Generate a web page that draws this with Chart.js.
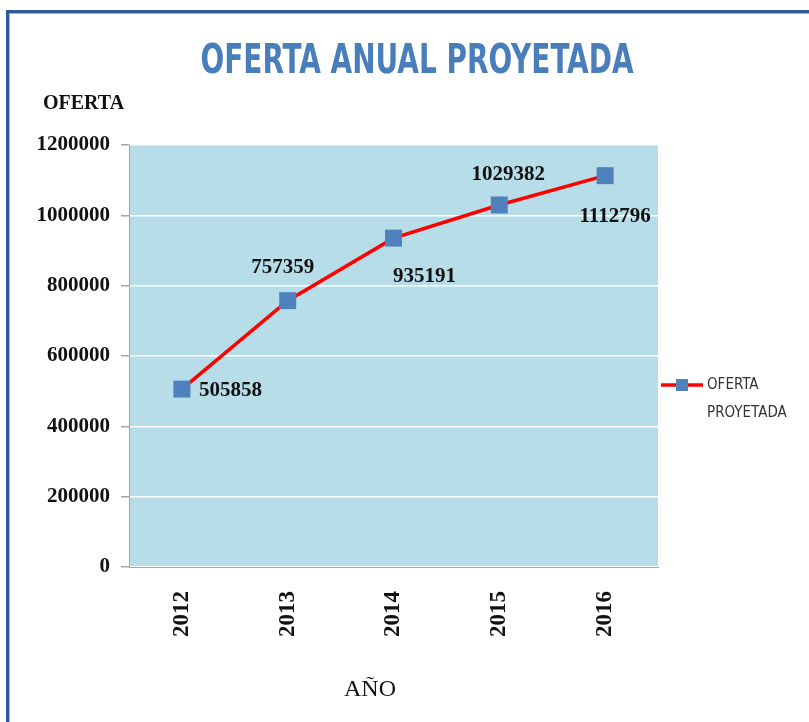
<!DOCTYPE html>
<html>
<head>
<meta charset="utf-8">
<script src="https://cdn.jsdelivr.net/npm/chart.js@4.4.1/dist/chart.umd.min.js"></script>
<style>
  html, body { margin: 0; padding: 0; background: #ffffff; }
  #wrap { width: 809px; height: 722px; position: relative; }
</style>
</head>
<body>
<div id="wrap"><canvas id="c" width="809" height="722"></canvas></div>
<script>
// ---- data ----
const categories = ['2012', '2013', '2014', '2015', '2016'];
const seriesName = 'OFERTA PROYETADA';
const ofertaValues = [505858, 757359, 935191, 1029382, 1112796];
const yTicks = [0, 200000, 400000, 600000, 800000, 1000000, 1200000];
const chartTitle = 'OFERTA ANUAL PROYETADA';
const yAxisTitle = 'OFERTA';
const xAxisTitle = 'AÑO';
const legendLines = ['OFERTA', 'PROYETADA'];

// ---- label placement (style only) ----
const labelOffsets = [
  { dx: 17, dy: 1, align: 'left' },
  { dx: -5, dy: -33, align: 'center' },
  { dx: 31, dy: 38, align: 'center' },
  { dx: 9, dy: -30, align: 'center' },
  { dx: 10, dy: 41, align: 'center' }
];

const SERIF = "'Liberation Serif', 'Times New Roman', serif";
const NARROW = "'Liberation Sans Narrow', 'DejaVu Sans Condensed', 'Liberation Sans', sans-serif";
const MARKER = '#4F81BD';
const LINE = '#FF0000';

const decorPlugin = {
  id: 'decor',
  beforeDraw(chart) {
    const { ctx, chartArea: a } = chart;
    ctx.save();
    ctx.fillStyle = '#2E5A97';
    ctx.fillRect(6, 10, 3, 722);
    ctx.fillRect(6, 10, 809, 3);
    ctx.fillStyle = '#9DB3D3';
    ctx.fillRect(9, 13, 1, 722);
    ctx.fillRect(9, 13, 809, 1);
    ctx.fillStyle = '#B7DDE8';
    ctx.fillRect(a.left, a.top, a.right - a.left, a.bottom - a.top);
    ctx.restore();
  },
  afterDraw(chart) {
    const { ctx, chartArea: a } = chart;
    ctx.save();
    // title (horizontally condensed)
    ctx.save();
    ctx.fillStyle = '#4A7EBB';
    ctx.font = "bold 40px " + NARROW;
    ctx.textAlign = 'center';
    ctx.textBaseline = 'middle';
    const tw = ctx.measureText(chartTitle).width;
    const sx = 433 / tw;
    ctx.translate(417, 63);
    ctx.scale(sx, 1);
    ctx.fillText(chartTitle, 0, 0);
    ctx.restore();
    // y axis title
    ctx.fillStyle = '#111111';
    ctx.font = "bold 20px " + SERIF;
    ctx.textAlign = 'left';
    ctx.textBaseline = 'middle';
    ctx.fillText(yAxisTitle, 43, 104);
    // x axis title
    ctx.font = "24px " + SERIF;
    ctx.textAlign = 'center';
    ctx.fillText(xAxisTitle, 370, 690);
    // data labels
    const meta = chart.getDatasetMeta(0);
    ctx.font = "bold 21px " + SERIF;
    meta.data.forEach((pt, i) => {
      const o = labelOffsets[i];
      ctx.textAlign = o.align;
      ctx.textBaseline = 'middle';
      ctx.fillText(String(ofertaValues[i]), pt.x + o.dx, pt.y + o.dy);
    });
    // legend
    const lx = a.right + 3, ly = 385;
    ctx.strokeStyle = LINE;
    ctx.lineWidth = 3.5;
    ctx.beginPath();
    ctx.moveTo(lx, ly);
    ctx.lineTo(lx + 42, ly);
    ctx.stroke();
    ctx.fillStyle = MARKER;
    ctx.fillRect(lx + 15, ly - 6, 12, 12);
    ctx.fillStyle = '#333333';
    ctx.font = "15px " + NARROW;
    ctx.textAlign = 'left';
    ctx.fillText(legendLines[0], lx + 46, ly);
    ctx.fillText(legendLines[1], lx + 46, ly + 28);
    ctx.restore();
  }
};

new Chart(document.getElementById('c'), {
  type: 'line',
  data: {
    labels: categories,
    datasets: [{
      label: seriesName,
      data: ofertaValues,
      borderColor: LINE,
      borderWidth: 3.5,
      backgroundColor: MARKER,
      pointStyle: 'rect',
      pointRadius: 12,
      pointHoverRadius: 12,
      pointBorderWidth: 0,
      pointBackgroundColor: MARKER,
      tension: 0,
      fill: false
    }]
  },
  options: {
    responsive: false,
    animation: false,
    events: [],
    layout: { padding: { top: 145, right: 151, left: 0, bottom: 0 } },
    plugins: {
      legend: { display: false },
      title: { display: false },
      tooltip: { enabled: false }
    },
    scales: {
      x: {
        type: 'category',
        offset: true,
        grid: { display: false, offset: true },
        border: { display: true, color: '#A6A6A6', width: 1 },
        ticks: {
          minRotation: 90, maxRotation: 90, padding: 16,
          color: '#111111',
          font: { family: SERIF, size: 23, weight: 'bold' }
        },
        afterFit(s) { s.height = 155; }
      },
      y: {
        min: 0, max: 1200000,
        afterBuildTicks(s) { s.ticks = yTicks.map(v => ({ value: v })); },
        grid: {
          color: '#FFFFFF', lineWidth: 1.5,
          tickColor: '#A6A6A6', tickLength: 8, drawTicks: true
        },
        border: { display: true, color: '#A6A6A6', width: 1 },
        ticks: {
          padding: 11,
          color: '#111111',
          font: { family: SERIF, size: 21, weight: 'bold' },
          callback: (v) => String(v)
        },
        afterFit(s) { s.width = 129; }
      }
    }
  },
  plugins: [decorPlugin]
});
</script>
</body>
</html>
